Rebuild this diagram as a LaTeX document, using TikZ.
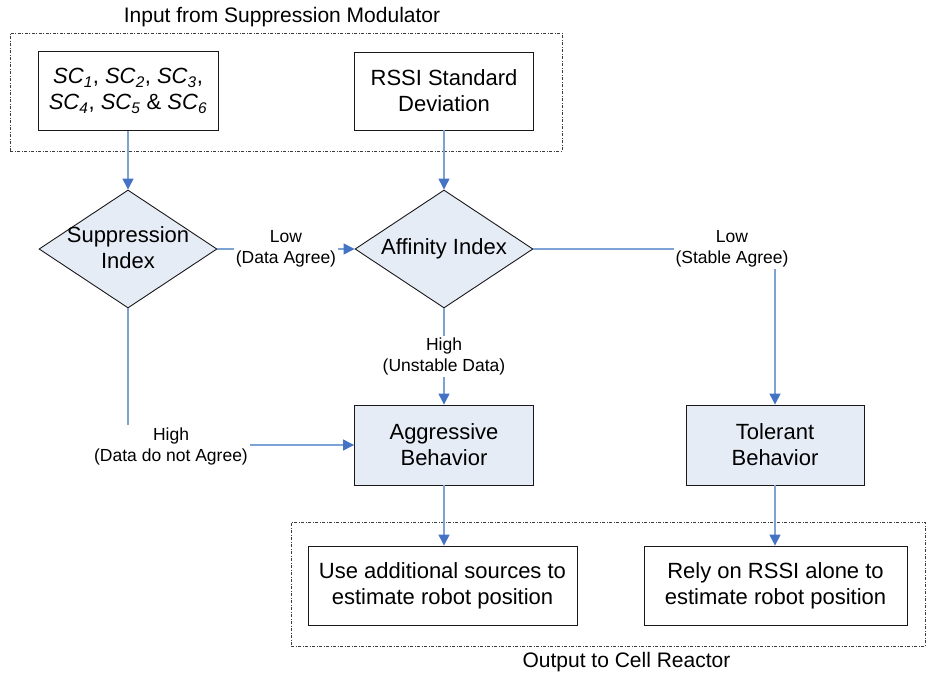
\documentclass[tikz,border=0pt]{standalone}
\usepackage{fontspec}
\setmainfont{Liberation Sans}
\usetikzlibrary{arrows.meta,shapes.geometric}
\definecolor{flowline}{RGB}{125,162,214}
\definecolor{flowtip}{RGB}{68,114,196}
\definecolor{paleblue}{RGB}{230,236,246}
\definecolor{groupline}{RGB}{60,60,60}
\definecolor{boxline}{RGB}{25,25,25}
\tikzset{
  boxtext/.style={font=\fontsize{22}{26}\selectfont, align=center},
  plainbox/.style={boxtext, draw=boxline, line width=0.9pt, inner sep=0pt},
  shadedbox/.style={plainbox, fill=paleblue},
  decision/.style={diamond, draw=boxline, line width=0.9pt, fill=paleblue, inner sep=0pt,
    minimum width=178pt, minimum height=118pt},
  group/.style={draw=groupline, line width=0.7pt, inner sep=0pt,
    dash pattern=on 3pt off 1.5pt on 1pt off 1.5pt},
  flow/.style={draw=flowline, line width=1.3pt,
    -{Triangle[length=11pt,width=11pt,color=flowtip]}},
  tag/.style={font=\fontsize{17.5}{21}\selectfont, align=center, fill=white, inner sep=2pt},
  caption/.style={font=\fontsize{21}{25}\selectfont}
}
\newcommand{\scsub}[1]{\textit{SC}\textsubscript{\textit{#1}}}
\begin{document}
\begin{tikzpicture}[x=1pt,y=-1pt]
  \useasboundingbox (0,0) rectangle (929,675);

  % input group
  \node[group, minimum width=552pt, minimum height=118pt] (ingroup) at (286,92) {};
  \node[caption] (intitle) at (282,17) {Input from Suppression Modulator};
  \node[plainbox, minimum width=180pt, minimum height=79pt] (sc) at (128,91)
    {\scsub{1}, \scsub{2}, \scsub{3},\\\scsub{4}, \scsub{5} \& \scsub{6}};
  \node[plainbox, minimum width=179pt, minimum height=78pt] (rssi) at (444,91)
    {RSSI Standard\\Deviation};

  % decisions
  \node[decision] (si) at (128,249) {};
  \node[boxtext] (sitext) at (128,248) {Suppression\\Index};
  \node[decision] (ai) at (444,249) {};
  \node[boxtext] (aitext) at (444,249) {Affinity Index};

  % behaviours
  \node[shadedbox, minimum width=179pt, minimum height=80pt] (ab) at (444,445)
    {Aggressive\\Behavior};
  \node[shadedbox, minimum width=178pt, minimum height=80pt] (tb) at (775,445)
    {Tolerant\\Behavior};

  % output group
  \node[group, minimum width=634pt, minimum height=124pt] (outgroup) at (608,584) {};
  \node[caption] (outtitle) at (626.5,662) {Output to Cell Reactor};
  \node[plainbox, minimum width=269pt, minimum height=79pt] (use) at (442.5,585.5)
    {Use additional sources to\\estimate robot position};
  \node[plainbox, minimum width=263pt, minimum height=79pt] (rely) at (775.5,585.5)
    {Rely on RSSI alone to\\estimate robot position};

  % connectors
  \draw[flow] (sc.south) -- (si.north);
  \draw[flow] (rssi.south) -- (ai.north);
  \draw[flow] (si.east) -- node[tag] {Low\\(Data Agree)} (ai.west);
  \draw[flow] (ai.east) -- (tb.north |- ai.east) -- (tb.north);
  \node[tag] (stable) at (732,249) {Low\\(Stable Agree)};
  \draw[flow] (ai.south) -- node[tag] {High\\(Unstable Data)} (ab.north);
  \draw[flow] (si.south) -- (si.south |- ab.west) -- (ab.west);
  \node[tag] (disagree) at (171,446) {High\\(Data do not Agree)};
  \draw[flow] (ab.south) -- (ab.south |- use.north);
  \draw[flow] (tb.south) -- (tb.south |- rely.north);
\end{tikzpicture}
\end{document}
